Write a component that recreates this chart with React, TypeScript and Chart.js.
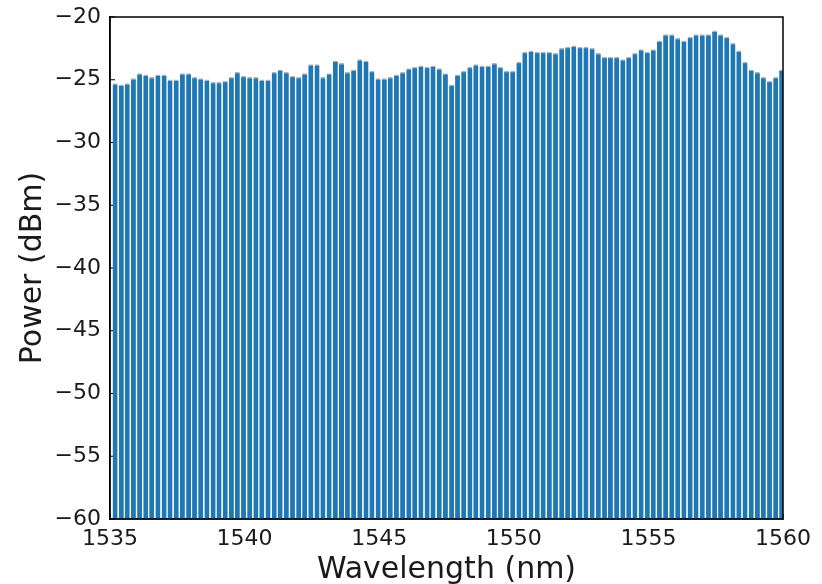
import React, { useEffect, useRef } from 'react';
import { Chart, registerables } from 'chart.js';

Chart.register(...registerables);

// Comb-line wavelengths (nm)
const wavelengths = [
  1535.19, 1535.42, 1535.64, 1535.87, 1536.10, 1536.33, 1536.55, 1536.78, 1537.01, 1537.23,
  1537.46, 1537.69, 1537.92, 1538.14, 1538.37, 1538.60, 1538.83, 1539.05, 1539.28, 1539.51,
  1539.73, 1539.96, 1540.19, 1540.42, 1540.64, 1540.87, 1541.10, 1541.32, 1541.55, 1541.78,
  1542.01, 1542.23, 1542.46, 1542.69, 1542.91, 1543.14, 1543.37, 1543.60, 1543.82, 1544.05,
  1544.28, 1544.51, 1544.73, 1544.96, 1545.19, 1545.41, 1545.64, 1545.87, 1546.10, 1546.32,
  1546.55, 1546.78, 1547.00, 1547.23, 1547.46, 1547.69, 1547.91, 1548.14, 1548.37, 1548.59,
  1548.82, 1549.05, 1549.28, 1549.50, 1549.73, 1549.96, 1550.19, 1550.41, 1550.64, 1550.87,
  1551.09, 1551.32, 1551.55, 1551.78, 1552.00, 1552.23, 1552.46, 1552.68, 1552.91, 1553.14,
  1553.37, 1553.59, 1553.82, 1554.05, 1554.27, 1554.50, 1554.73, 1554.96, 1555.18, 1555.41,
  1555.64, 1555.87, 1556.09, 1556.32, 1556.55, 1556.77, 1557.00, 1557.23, 1557.46, 1557.68,
  1557.91, 1558.14, 1558.36, 1558.59, 1558.82, 1559.05, 1559.27, 1559.50, 1559.73, 1559.95,
];

// Peak power of each comb line (dBm)
const peakPower = [
  -25.3, -25.4, -25.3, -24.9, -24.5, -24.6, -24.8, -24.6, -24.6, -25.0,
  -25.0, -24.5, -24.5, -24.8, -24.9, -25.0, -25.2, -25.2, -25.1, -24.8,
  -24.4, -24.7, -24.8, -24.8, -25.0, -25.0, -24.4, -24.2, -24.4, -24.7,
  -24.8, -24.5, -23.8, -23.8, -24.8, -24.5, -23.5, -23.7,
  -24.4, -24.2, -23.4, -23.5, -24.3, -24.9, -24.9, -24.8, -24.6, -24.4,
  -24.1, -24.0, -23.9, -24.0, -23.9, -24.1, -24.5, -25.4, -24.6, -24.3,
  -24.0, -23.8, -23.9, -23.9, -23.7, -24.0, -24.3, -24.3, -23.6, -22.8,
  -22.7, -22.8, -22.8, -22.8, -22.9, -22.5, -22.4,
  -22.3, -22.4, -22.4, -22.5, -22.9, -23.2, -23.2, -23.2, -23.4, -23.2,
  -22.9, -22.6, -22.8, -22.6, -21.9, -21.4, -21.4, -21.7, -21.9, -21.6,
  -21.4, -21.4, -21.4, -21.1, -21.4, -21.6, -22.1, -22.7, -23.6, -24.2,
  -24.4, -24.8, -25.1, -24.8, -24.2,
];

const X_MIN = 1535;
const X_MAX = 1560;
const X_STEP = 5;
const Y_MIN = -60;
const Y_MAX = -20;
const Y_STEP = 5;

const FONT = "'DejaVu Sans', sans-serif";

// Inward tick marks drawn beneath the bars, plus a full frame on top
const axesPlugin = {
  id: 'mplAxes',
  beforeDatasetsDraw(chart: any) {
    const { ctx, chartArea: a, scales } = chart;
    ctx.save();
    ctx.strokeStyle = '#000';
    ctx.lineWidth = 1.2;
    ctx.beginPath();
    for (const t of scales.y.ticks) {
      const y = scales.y.getPixelForValue(t.value);
      ctx.moveTo(a.left, y);
      ctx.lineTo(a.left + 5, y);
    }
    for (const t of scales.x.ticks) {
      const x = scales.x.getPixelForValue(t.value);
      ctx.moveTo(x, a.bottom);
      ctx.lineTo(x, a.bottom - 5);
    }
    ctx.stroke();
    ctx.restore();
  },
  afterDraw(chart: any) {
    const { ctx, chartArea: a } = chart;
    ctx.save();
    ctx.strokeStyle = '#000';
    ctx.lineWidth = 1.5;
    ctx.strokeRect(a.left, a.top, a.right - a.left, a.bottom - a.top);
    ctx.restore();
  },
};

export default function App() {
  const ref = useRef<HTMLCanvasElement | null>(null);

  useEffect(() => {
    if (!ref.current) return;
    const chart = new Chart(ref.current, {
      type: 'bar',
      data: {
        datasets: [
          {
            data: wavelengths.map((w, i) => ({ x: w, y: peakPower[i] })),
            base: Y_MIN,
            backgroundColor: '#1f77b4',
            borderColor: '#aeb4ba',
            borderWidth: { top: 1.5, left: 0, right: 0, bottom: 0 },
            borderSkipped: 'bottom',
            barThickness: 4.8,
          } as any,
        ],
      },
      options: {
        animation: false,
        responsive: false,
        maintainAspectRatio: false,
        layout: { padding: { top: 17, right: 39, left: 0, bottom: 0 } },
        plugins: {
          legend: { display: false },
          tooltip: { enabled: false },
        },
        scales: {
          x: {
            type: 'linear',
            min: X_MIN,
            max: X_MAX,
            offset: false,
            ticks: {
              stepSize: X_STEP,
              color: '#1a1a1a',
              font: { family: FONT, size: 22 },
              padding: 2,
              maxRotation: 0,
              autoSkip: false,
              callback: (v: any) => String(v),
            },
            grid: { display: false, drawTicks: true, tickLength: 5 },
            border: { display: true, color: '#000', width: 1.5 },
            title: {
              display: true,
              text: 'Wavelength (nm)',
              color: '#1a1a1a',
              font: { family: FONT, size: 30 },
              padding: { top: 0, bottom: -4 },
            },
            afterFit: (s: any) => {
              s.height = 65;
            },
          },
          y: {
            type: 'linear',
            min: Y_MIN,
            max: Y_MAX,
            ticks: {
              stepSize: Y_STEP,
              color: '#1a1a1a',
              font: { family: FONT, size: 22 },
              padding: 3,
              callback: (v: any) => (v < 0 ? '\u2212' + Math.abs(v) : String(v)),
            },
            grid: { display: false, drawTicks: true, tickLength: 6 },
            border: { display: true, color: '#000', width: 1.5 },
            title: {
              display: true,
              text: 'Power (dBm)',
              color: '#1a1a1a',
              font: { family: FONT, size: 30 },
              padding: { top: 15, bottom: 0 },
            },
            afterFit: (s: any) => {
              s.width = 110;
            },
          },
        },
      },
      plugins: [axesPlugin],
    });
    return () => chart.destroy();
  }, []);

  return (
    <div style={{ position: 'fixed', left: 0, top: 0, width: 822, height: 584, background: '#fff' }}>
      <canvas ref={ref} width={822} height={584} style={{ display: 'block' }} />
    </div>
  );
}
